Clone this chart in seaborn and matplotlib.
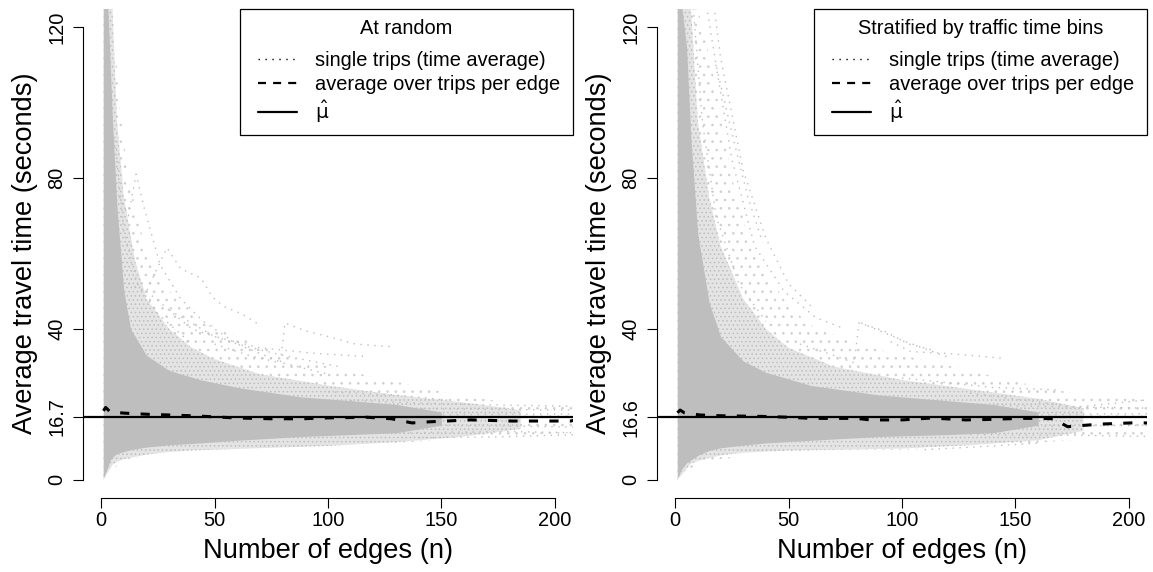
import numpy as np
import pandas as pd
import matplotlib
matplotlib.use("Agg")
import matplotlib.pyplot as plt
import seaborn as sns
from matplotlib.lines import Line2D
from matplotlib.legend_handler import HandlerLine2D

sns.set_style("ticks")
plt.rcParams['font.family'] = ['Liberation Sans', 'DejaVu Sans']
plt.rcParams['mathtext.fontset'] = 'dejavusans'
plt.rcParams['text.color'] = 'black'
plt.rcParams['axes.labelcolor'] = 'black'
plt.rcParams['xtick.color'] = 'black'
plt.rcParams['ytick.color'] = 'black'
plt.rcParams['hatch.linewidth'] = 0.6

GRAY = '#BEBEBE'

# ---- panel 1: at random ----
rnd_title = "At random"
rnd_mu = 16.7
rnd_avg_n = [1, 2, 4, 10, 20, 30, 40, 50, 60, 75, 89, 97, 117, 128, 137, 145, 163, 181, 194, 207, 209]
rnd_avg_v = [18.3, 19.2, 18.0, 17.7, 17.4, 17.2, 17.0, 16.7, 16.4, 16.2, 16.2, 16.4, 16.6, 16.2, 15.1, 15.4, 15.9, 15.6, 15.6, 15.6, 15.9]

# envelopes of the cloud of single trips
rnd_out_n = [1, 5, 8, 12, 20, 30, 45, 60, 80, 100, 130, 160, 190, 210]
rnd_out_hi = [125, 125, 100, 80, 60, 50, 42, 38, 33, 30, 26, 22, 20, 19.5]
rnd_out_lo = [0, 2.5, 4.5, 5.5, 6.5, 7.5, 8.2, 8.5, 8.5, 8.7, 9.8, 11, 12, 12.5]
rnd_mid_n = [1, 5, 7, 10, 15, 20, 30, 40, 50, 70, 100, 130, 160, 185]
rnd_mid_hi = [125, 125, 95, 75, 58, 48, 40, 35, 32, 28, 25, 22.5, 20.5, 18.5]
rnd_mid_lo = [0, 4, 4.8, 5.5, 6.1, 6.7, 7.4, 7.8, 8, 8.4, 9, 10, 11.5, 13.5]
rnd_core_n = [1, 3, 4, 5, 7, 10, 13, 20, 30, 44, 60, 88, 110, 130, 150]
rnd_core_hi = [125, 125, 110, 95, 72, 50, 40, 33, 29, 26.5, 24.5, 22, 21, 20, 18]
rnd_core_lo = [0.5, 3.5, 5.3, 6, 7, 7.5, 8, 8.7, 9.3, 9.8, 10.5, 11.5, 12, 12.5, 14.5]

rnd_trips = [
    ([8, 12, 15.4, 19, 26, 35, 45, 60, 80, 100], [75, 70, 81, 72, 57, 48, 42, 36, 31, 28]),
    ([12, 20, 29, 35, 44, 49, 54, 62, 70], [52, 50, 61.5, 56, 53.5, 48.5, 46, 44, 41]),
    ([50, 65, 79, 81, 90, 100, 112, 128], [36, 33, 31, 41.6, 39.5, 38, 36, 35.3]),
    ([30, 50, 70, 95, 117], [45, 38, 35, 33.5, 32.7]),
    ([20, 40, 60, 80, 105], [50, 40, 36, 33, 30]),
    ([6, 10, 16, 25, 40], [90, 66, 52, 44, 36]),
    ([100, 130, 155], [23.3, 22.5, 21]),
    ([110, 160, 210], [21, 20, 19.5]),
    ([120, 170, 210], [19, 18.7, 18.5]),
    ([120, 160, 210], [17, 17.3, 17.5]),
    ([125, 175, 210], [14.5, 14.3, 14]),
    ([130, 180, 210], [12.5, 12.8, 12.5]),
    ([140, 175, 210], [11.2, 11.4, 12]),
]

# ---- panel 2: stratified ----
str_title = "Stratified by traffic time bins"
str_mu = 16.6
str_avg_n = [1, 2.2, 4, 11, 20, 30, 40, 50, 60, 80, 86, 100, 113, 128, 137, 152, 161, 167, 170, 173, 179, 188, 201, 209]
str_avg_v = [17.8, 18.5, 17.8, 17.2, 17.0, 16.9, 16.8, 16.6, 16.3, 16.3, 15.9, 15.9, 16.4, 15.9, 16.0, 16.3, 16.3, 16.2, 15.1, 14.1, 14.4, 14.8, 15.1, 15.1]

str_out_n = [1, 10, 16, 25, 32, 40, 50, 60, 80, 100, 130, 150, 175, 210]
str_out_hi = [125, 125, 110, 80, 65, 55, 46, 41, 36, 33, 29, 26, 23, 21]
str_out_lo = [0, 4.5, 5.3, 5.8, 6.5, 7, 7.5, 7.8, 8, 8, 8.5, 9.5, 10.5, 11.5]
str_mid_n = [1, 7, 10, 15, 20, 30, 40, 50, 70, 100, 130, 160, 180]
str_mid_hi = [125, 125, 95, 75, 62, 48, 40, 35, 30, 26.5, 24, 21.5, 19]
str_mid_lo = [0, 4.3, 5, 5.8, 6.5, 7.2, 7.5, 7.8, 8, 8.3, 9.2, 10.5, 13]
str_core_n = [1, 3, 5, 7, 10, 15, 20, 30, 40, 60, 90, 120, 140, 160]
str_core_hi = [125, 125, 115, 90, 65, 47, 38, 31.5, 28.5, 25, 22.5, 21, 20, 18]
str_core_lo = [0.5, 3, 4.5, 5.3, 6.5, 7.8, 8.5, 9.2, 9.8, 10.5, 11.5, 12, 12.5, 14.5]

str_trips = [
    ([10, 14, 18, 25, 32, 38.5], [140, 125, 110, 92, 75, 63]),
    ([14, 20, 30, 40, 50, 60], [140, 112, 82, 64, 52, 46]),
    ([18, 25, 35, 48, 62, 75], [110, 85, 62, 50, 43, 40]),
    ([8, 12, 18, 28, 40], [125, 95, 70, 52, 42]),
    ([55, 70, 79, 81, 92, 103, 113], [36, 33, 31, 41.6, 39.5, 36, 34.5]),
    ([82, 100, 120], [41.6, 37, 32.6]),
    ([95, 104, 120, 143.6], [36.6, 34, 33.5, 32.3]),
    ([100, 140, 170], [27, 24.5, 23.8]),
    ([130, 177, 208, 210], [23, 19.3, 21.2, 21.5]),
    ([120, 160, 210], [20, 19.5, 19]),
    ([140, 190, 210], [17, 17.5, 17.5]),
    ([120, 170, 210], [13.5, 14.3, 14.5]),
    ([130, 180, 210], [12, 11.8, 11.5]),
    ([110, 140, 161], [8, 9, 9.8]),
]

panels = [
    dict(title=rnd_title, mu=rnd_mu, avg_n=rnd_avg_n, avg_v=rnd_avg_v,
         out=(rnd_out_n, rnd_out_lo, rnd_out_hi), mid=(rnd_mid_n, rnd_mid_lo, rnd_mid_hi),
         core=(rnd_core_n, rnd_core_lo, rnd_core_hi), trips=rnd_trips),
    dict(title=str_title, mu=str_mu, avg_n=str_avg_n, avg_v=str_avg_v,
         out=(str_out_n, str_out_lo, str_out_hi), mid=(str_mid_n, str_mid_lo, str_mid_hi),
         core=(str_core_n, str_core_lo, str_core_hi), trips=str_trips),
]

fig = plt.figure(figsize=(11.53, 5.72), dpi=100)
lefts = [83 / 1153, 657 / 1153]

dash_style = (0, (3, 3.7))
dot_style = (0, (1, 4))

for p, left in zip(panels, lefts):
    ax = fig.add_axes([left, 74 / 572, 490 / 1153, 489 / 572])

    # cloud of single trips: sparse stipple, denser stipple, solid core
    n, lo, hi = p['out']
    ax.fill_between(n, lo, hi, facecolor='none', edgecolor='#CFCFCF', hatch='..', linewidth=0)
    n, lo, hi = p['mid']
    ax.fill_between(n, lo, hi, facecolor='#E4E4E4', edgecolor=GRAY, hatch='....', linewidth=0)
    n, lo, hi = p['core']
    ax.fill_between(n, lo, hi, color=GRAY, linewidth=0)
    for tn, tv in p['trips']:
        ax.plot(tn, tv, color=GRAY, lw=1, linestyle=dot_style)

    ax.axhline(p['mu'], color='black', lw=1.6)
    avg = pd.DataFrame({'n': p['avg_n'], 'v': p['avg_v']})
    sns.lineplot(data=avg, x='n', y='v', ax=ax, color='black', lw=2.2,
                 linestyle=dash_style, estimator=None, sort=False)

    ax.set_xlim(-8, 208)
    ax.set_ylim(-4.8, 124.8)
    ax.set_xticks([0, 50, 100, 150, 200])
    yt = [0, p['mu'], 40, 80, 120]
    ax.set_yticks(yt)
    ax.set_yticklabels(['0', f"{p['mu']}", '40', '80', '120'], rotation=90, va='center')
    ax.tick_params(axis='both', labelsize=14.4, length=7, width=0.8, direction='out', color='black')
    ax.tick_params(axis='x', pad=2.5)
    ax.tick_params(axis='y', pad=5)
    for s in ['top', 'right']:
        ax.spines[s].set_visible(False)
    ax.spines['left'].set_bounds(0, 120)
    ax.spines['bottom'].set_bounds(0, 200)
    for s in ['left', 'bottom']:
        ax.spines[s].set_linewidth(0.8)
        ax.spines[s].set_color('black')

    ax.set_xlabel("Number of edges (n)", fontsize=19.6)
    ax.set_ylabel("Average travel time (seconds)", fontsize=19.6)
    ax.xaxis.set_label_coords(0.5, -0.0818)
    ax.yaxis.set_label_coords(-0.0918, 0.5)

    handles = [
        Line2D([], [], color='black', lw=1, linestyle=dot_style),
        Line2D([], [], color='black', lw=1.6, linestyle=(0, (3.6, 3.2))),
        Line2D([], [], color='black', lw=1.6),
    ]
    labels = ["single trips (time average)", "average over trips per edge", r"$\hat{\mathrm{\mu}}$"]
    hm = {h: HandlerLine2D(xpad=0.4) for h in handles}
    leg = ax.legend(handles, labels, title=p['title'], loc='upper right',
                    bbox_to_anchor=(0.3204, 0, 0.6796, 1.0), mode='expand',
                    borderaxespad=0, fontsize=14.4, title_fontsize=14.4,
                    borderpad=0.5, labelspacing=0.25, handlelength=2.35,
                    handletextpad=0.9, fancybox=False, framealpha=1,
                    edgecolor='black', handler_map=hm)
    leg._legend_box.sep = 9
    leg.get_frame().set_linewidth(0.9)

fig.savefig("out.png", dpi=100)
